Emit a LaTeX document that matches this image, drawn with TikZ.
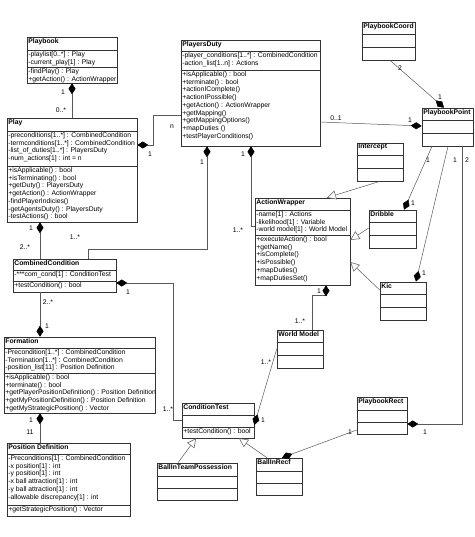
\documentclass[tikz,border=0pt]{standalone}
\usepackage{fontspec}
\setmainfont{Liberation Sans}
\usetikzlibrary{arrows.meta,fit}
\tikzset{
 box/.style={draw=black!80, line width=0.6pt, inner sep=0pt, fill=white},
 sepl/.style={draw=black!80, line width=0.6pt},
 txt/.style={anchor=north west, inner xsep=1.5pt, inner ysep=1.2pt, align=left, font=\fontsize{6.8}{7.75}\selectfont},
 ttl/.style={txt, font=\fontsize{6.8}{7.75}\selectfont\bfseries},
 lbl/.style={font=\fontsize{6.8}{8}\selectfont, inner sep=0pt},
 conn/.style={draw=black!65, line width=0.5pt},
 comp/.style={conn, -{Diamond[length=11pt,width=7pt,color=black]}},
 gen/.style={conn, -{Triangle[open,length=9pt,width=9pt,fill=white]}},
}
\newcommand\umlcls[8]{%
  \node[box, fit={(#2) (#3)}] (#1) {};
  \draw[sepl] (#1.west |- 0,#4) -- (#1.east |- 0,#4);
  \draw[sepl] (#1.west |- 0,#5) -- (#1.east |- 0,#5);
  \node[ttl] (#1-t) at (#1.north west) {#6};
  \node[txt] (#1-a) at (#1.west |- 0,#4) {#7};
  \node[txt] (#1-m) at (#1.west |- 0,#5) {#8};
}
\begin{document}
\begin{tikzpicture}[x=1pt,y=-1pt]
\useasboundingbox[fill=white] (0,0) rectangle (474,537);

\umlcls{playbook}{27,37}{117,83}{50}{67}{Playbook}
 {-playlist[0..*] : Play\\-current\_play[1] : Play}
 {-findPlay() : Play\\+getAction() : ActionWrapper}

\umlcls{play}{7,118}{137,222}{131}{166}{Play}
 {-preconditions[1..*] : CombinedCondition\\-termconditions[1..*] : CombinedCondition\\-list\_of\_duties[1..*] : PlayersDuty\\-num\_actions[1] : int = n}
 {+isApplicable() : bool\\+isTerminating() : bool\\+getDuty() : PlayersDuty\\+getAction() : ActionWrapper\\-findPlayerIndicies()\\-getAgentsDuty() : PlayersDuty\\-testActions() : bool}

\umlcls{pduty}{181,40}{320,146}{51}{70}{PlayersDuty}
 {-player\_conditions[1..*] : CombinedCondition\\-action\_list[1..n] : Actions}
 {+isApplicable() : bool\\+terminate() : bool\\+actionIComplete()\\+actionIPossible()\\+getAction() : ActionWrapper\\+getMapping()\\+getMappingOptions()\\+mapDuties ()\\+testPlayerConditions()}

\umlcls{pcoord}{362,22}{415,60}{34}{47}{PlaybookCoord}{}{}
\umlcls{ppoint}{422,108}{473,146}{120}{133}{PlaybookPoint}{}{}
\umlcls{intercept}{357,143}{403,181}{155}{168}{Intercept}{}{}
\umlcls{dribble}{369,210}{416,248}{222}{235}{Dribble}{}{}
\umlcls{kic}{380,282}{426,320}{294}{307}{Kic}{}{}

\umlcls{aw}{255,198}{350,285}{210}{235}{ActionWrapper}
 {-name[1] : Actions\\-likelihood[1] : Variable\\-world model[1] : World Model}
 {+executeAction() : bool\\+getName()\\+isComplete()\\+isPossible()\\+mapDuties()\\+mapDutiesSet()}

\umlcls{cc}{13,259}{116,292}{270}{281}{CombinedCondition}
 {-***com\_cond[1] : ConditionTest}
 {+testCondition() : bool}

\umlcls{form}{4,337}{155,413}{348}{373}{Formation}
 {-Precondition[1..*] : CombinedCondition\\-Termination[1..*] : CombinedCondition\\-position\_list[11] : Position Definition}
 {+isApplicable() : bool\\+terminate() : bool\\+getPlayerPositionDefinition() : Position Definition\\+getMyPositionDefinition() : Position Definition\\+getMyStrategicPosition() : Vector}

\umlcls{pdef}{7,443}{130,516}{454}{505}{Position Definition}
 {-Preconditions[1] : CombinedCondition\\-x position[1] : int\\-y position[1] : int\\-x ball attraction[1] : int\\-y ball attraction[1] : int\\-allowable discrepancy[1] : int}
 {+getStrategicPosition() : Vector}

\umlcls{wm}{277,330}{323,368}{342}{355}{World Model}{}{}
\umlcls{ct}{182,403}{254,438}{415}{427}{ConditionTest}{}{+testCondition() : bool}
\umlcls{prect}{357,397}{407,434}{410}{422}{PlaybookRect}{}{}
\umlcls{bitp}{157,463}{237,500}{476}{488}{BallInTeamPossession}{}{}
\umlcls{birecf}{256,458}{302,495}{471}{483}{BallInRecf}{}{}

% connectors
\draw[comp] (play.north -| 72,0) -- (playbook.south -| 72,0);
\node[lbl] (l1) at (63,92) {1};
\node[lbl] (l2) at (61,110) {0..*};

\draw[comp] (pduty.west |- 0,115) -- (153,115) -- (153,145) -- (play.east |- 0,145);
\node[lbl] (l3) at (172,127) {n};
\node[lbl] (l4) at (150,154) {1};

\draw[comp] (cc.north -| 40,0) -- (play.south -| 40,0);
\node[lbl] (l5) at (31,228) {1};
\node[lbl] (l6) at (25,247) {2..*};

\draw[comp] (cc.north -| 88,0) -- (88,249) -- (207,249) -- (pduty.south -| 207,0);
\node[lbl] (l7) at (75,237) {1..*};
\node[lbl] (l8) at (202,162) {1};

\draw[comp] (aw.west |- 0,226) -- (251,226) -- (pduty.south -| 251,0);
\node[lbl] (l9) at (238,230) {1..*};
\node[lbl] (l10) at (243,154) {1};

\draw[comp] (pduty.east |- 0,122) -- (ppoint.west |- 0,126);
\node[lbl] (l11) at (336,118) {0..1};
\node[lbl] (l12) at (410,120) {1};

\draw[comp] (pcoord.south -| 390,0) -- (ppoint.north -| 444,0);
\node[lbl] (l13) at (400,68) {2};
\node[lbl] (l14) at (440,97) {1};

\draw[comp] (ppoint.south -| 432,0) -- (dribble.north -| 404,0);
\node[lbl] (l15) at (428,160) {1};
\node[lbl] (l16) at (413,203) {1};

\draw[comp] (ppoint.south -| 448,0) -- (kic.north -| 416,0);
\node[lbl] (l17) at (455,160) {1};
\node[lbl] (l18) at (424,273) {1};

\draw[comp] (ppoint.south -| 462,0) -- (462,424) -- (prect.east |- 0,424);
\node[lbl] (l19) at (467,160) {2};
\node[lbl] (l20) at (425,432) {1};

\draw[gen] (intercept.south -| 380,0) -- (aw.north -| 327,0);
\draw[gen] (dribble.west |- 0,228) -- (aw.east |- 0,240);
\draw[gen] (kic.west |- 0,290) -- (aw.east |- 0,262);

\draw[comp] (wm.north -| 312,0) -- (312,295) -- (326,295) -- (aw.south -| 326,0);
\node[lbl] (l21) at (319,291) {1};
\node[lbl] (l22) at (300,321) {1..*};

\draw[comp] (wm.west |- 0,349) -- (ct.east |- 0,425);
\node[lbl] (l23) at (266,362) {1..*};
\node[lbl] (l24) at (263,420) {1};

\draw[comp] (ct.west |- 0,420) -- (173,420) -- (173,283) -- (cc.east |- 0,283);
\node[lbl] (l25) at (128,292) {1};
\node[lbl] (l26) at (168,409) {1..*};

\draw[comp] (cc.south -| 40,0) -- (form.north -| 40,0);
\node[lbl] (l27) at (48,302) {2..*};
\node[lbl] (l28) at (47,326) {1};

\draw[comp] (pdef.north -| 40,0) -- (form.south -| 40,0);
\node[lbl] (l29) at (31,420) {1};
\node[lbl] (l30) at (30,432) {11};

\draw[gen] (bitp.north -| 178,0) -- (ct.south -| 196,0);
\draw[gen] (birecf.north -| 267,0) -- (ct.south -| 239,0);

\draw[comp] (prect.west |- 0,430) -- (birecf.north -| 282,0);
\node[lbl] (l31) at (350,432) {1};
\end{tikzpicture}
\end{document}
